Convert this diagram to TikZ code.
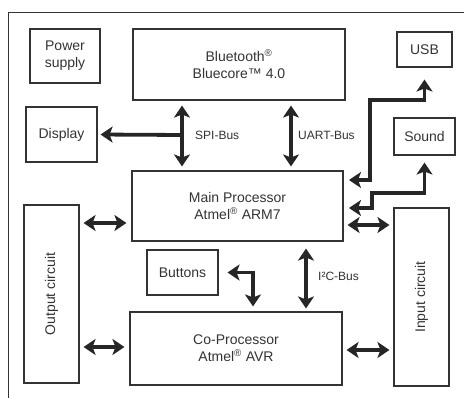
\documentclass[tikz,border=0pt]{standalone}
\usepackage{fontspec}
\setmainfont{Liberation Sans}
\usetikzlibrary{arrows.meta}

\definecolor{inkgray}{HTML}{333333}
\definecolor{arrowgray}{HTML}{262626}

\begin{document}
\begin{tikzpicture}[x=1pt, y=-1pt,
  box/.style={draw=inkgray, line width=1.1pt, inner sep=0pt, align=center,
    text=inkgray, font=\fontsize{14}{17}\selectfont},
  boxtext/.style={text=inkgray, font=\fontsize{14}{17}\selectfont},
  buslabel/.style={text=inkgray, font=\fontsize{12}{13}\selectfont},
  link/.style={draw=arrowgray, line width=3.8pt,
    {Stealth[length=12pt,width=16pt,inset=3pt]}-{Stealth[length=12pt,width=16pt,inset=3pt]},
    shorten <=4pt, shorten >=4pt},
  tolink/.style={draw=arrowgray, line width=3.8pt,
    -{Stealth[length=12pt,width=16pt,inset=3pt]}, shorten >=3pt}]
  % Setup
  \useasboundingbox (0,0) rectangle (464,398);
  \clip (0,0) rectangle (464,398);

  % Outer frame
  \draw[inkgray, line width=1pt] (8,420) |- (480,13);

  % Top row
  \node[box, minimum width=70, minimum height=54] (power) at (65,56) {Power\\supply};
  \node[box, minimum width=212, minimum height=71] (bt) at (239,64.5)
    {Bluetooth\textsuperscript{®}\\Bluecore™ 4.0};
  \node[box, minimum width=55, minimum height=35] (usb) at (424.5,49.5) {USB};

  % Middle row
  \node[box, minimum width=71, minimum height=55] (disp) at (61.5,134.5) {Display};
  \node[box, minimum width=61, minimum height=37] (sound) at (424.5,136.5) {Sound};
  \node[box, minimum width=211, minimum height=70] (main) at (237.5,206)
    {Main Processor\\Atmel\textsuperscript{®} ARM7};

  % Side circuits
  \node[box, minimum width=55, minimum height=178] (outc) at (51.5,294) {};
  \node[boxtext, rotate=90] (outctext) at (outc.center) {Output circuit};
  \node[box, minimum width=55, minimum height=178] (inc) at (421.5,297) {};
  \node[boxtext, rotate=90] (inctext) at (inc.center) {Input circuit};

  % Lower row
  \node[box, minimum width=71, minimum height=45] (btn) at (182.5,272.5) {Buttons};
  \node[box, minimum width=212, minimum height=73] (cop) at (236,348.5)
    {Co-Processor\\Atmel\textsuperscript{®} AVR};

  % === Buses to Bluetooth and display ===
  \coordinate (spi) at (182,135);
  \coordinate (uart) at (291,0);
  \draw[link, shorten <=5pt] (bt.south -| spi) -- (main.north -| spi)
    node[midway, right=8pt, buslabel] (spilabel) {SPI-Bus};
  \draw[tolink] (spi) -- (disp.east);
  \draw[link, shorten <=5pt] (bt.south -| uart) -- (main.north -| uart)
    node[midway, right=2pt, buslabel] (uartlabel) {UART-Bus};

  % === USB and sound ===
  \coordinate (usbin) at (343,180);
  \coordinate (usbbend) at (370,100);
  \draw[link, shorten <=6pt, shorten >=12pt] (usbin) -| (usbbend) -| (usb.south);
  \coordinate (sndin) at (343,208);
  \coordinate (sndbend) at (372,193);
  \draw[link, shorten <=6pt, shorten >=7pt] (sndin) -| (sndbend) -| (sound.south);

  % === Output and input circuits ===
  \coordinate (row1) at (0,223);
  \coordinate (row2) at (0,347);
  \coordinate (row3) at (0,225);
  \coordinate (row4) at (0,350);
  \draw[link, shorten >=5pt] (outc.east |- row1) -- (main.west |- row1);
  \draw[link, shorten >=5pt] (outc.east |- row2) -- (cop.west |- row2);
  \draw[link] (main.east |- row3) -- (inc.west |- row3);
  \draw[link] (cop.east |- row4) -- (inc.west |- row4);

  % === Buttons and I2C ===
  \coordinate (btnbend) at (253,272.5);
  \draw[link, shorten <=9pt, shorten >=5pt] (btn.east) -- (btnbend) -- (btnbend |- cop.north);
  \coordinate (iic) at (306,0);
  \draw[link, shorten <=7pt, shorten >=3pt] (main.south -| iic) -- (cop.north -| iic)
    node[midway, right=7pt, buslabel] (iiclabel) {I²C-Bus};

\end{tikzpicture}
\end{document}
